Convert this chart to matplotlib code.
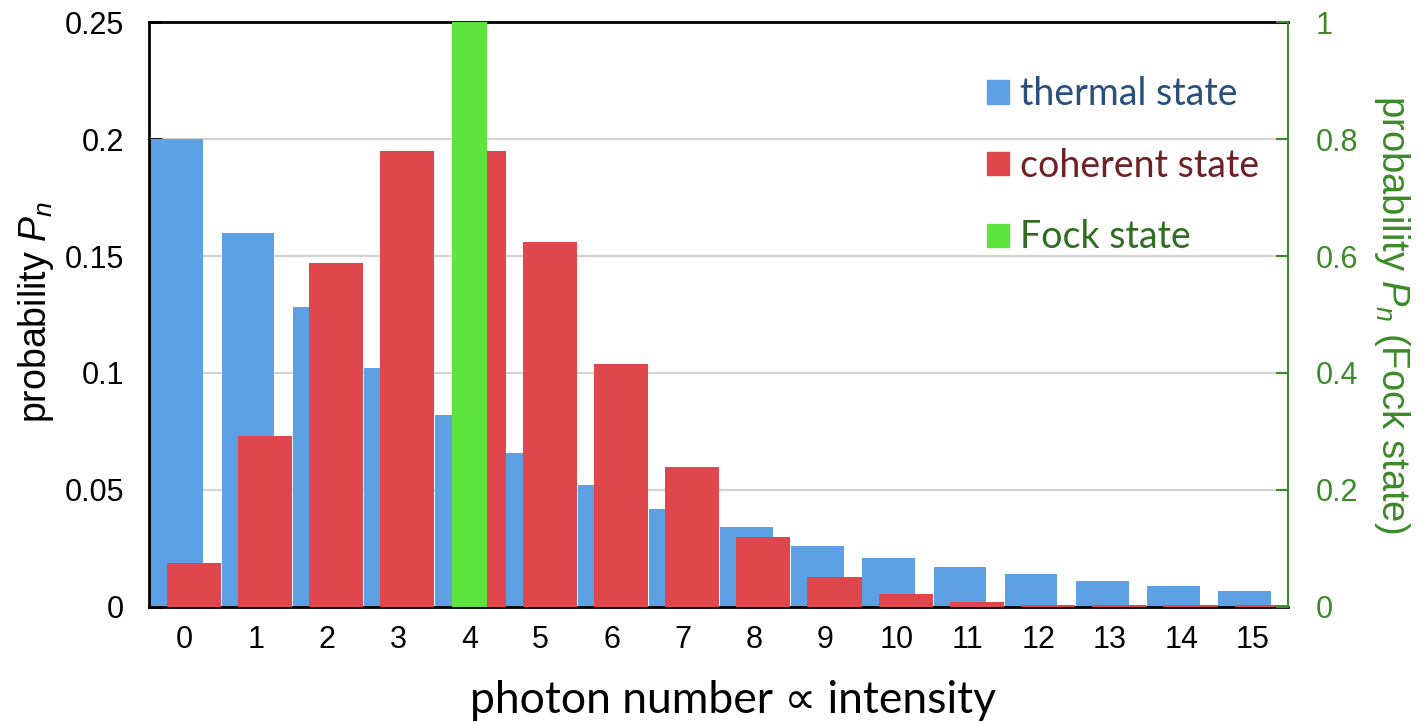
import numpy as np
import matplotlib
matplotlib.use('Agg')
import matplotlib.pyplot as plt
from matplotlib.patches import Patch

plt.rcParams['font.family'] = ['Liberation Sans', 'DejaVu Sans']
plt.rcParams['mathtext.fontset'] = 'custom'
plt.rcParams['mathtext.rm'] = 'Liberation Sans'
plt.rcParams['mathtext.it'] = 'Liberation Sans:italic'

# photon numbers
n = np.arange(16)
# thermal state probabilities (left axis)
thermal = [0.200, 0.160, 0.128, 0.102, 0.082, 0.066, 0.052, 0.042,
           0.034, 0.026, 0.021, 0.017, 0.014, 0.011, 0.009, 0.007]
# coherent state probabilities (left axis)
coherent = [0.019, 0.073, 0.147, 0.195, 0.195, 0.156, 0.104, 0.060,
            0.030, 0.013, 0.0055, 0.002, 0.001, 0.001, 0.001, 0.001]
# Fock state (right axis)
fock_n = [4]
fock = [1.0]

blue = '#5DA0E3'
red = '#E0474C'
green = '#5EE33F'
dgreen = '#3C8A28'

fig = plt.figure(figsize=(14.19, 7.22), dpi=100)
ax = fig.add_axes([0.105, 0.1593, 0.8027, 0.8102])

ax.bar(n - 0.11, thermal, width=0.74, color=blue, zorder=2)
ax.bar(n + 0.13, coherent, width=0.76, color=red, zorder=3)
ax.set_xlim(-0.5, 15.5)
ax.set_ylim(0, 0.25)
ax.set_yticks([0, 0.05, 0.1, 0.15, 0.2, 0.25])
ax.set_yticklabels(['0', '0.05', '0.1', '0.15', '0.2', '0.25'])
ax.set_xticks(n)
ax.tick_params(axis='y', direction='in', length=9, width=2, labelsize=22, pad=18)
ax.tick_params(axis='x', length=0, labelsize=22, pad=13)
for y in [0.05, 0.1, 0.15, 0.2]:
    ax.axhline(y, color='#d4d4d4', lw=1.6, zorder=1)
for s in ['left', 'top', 'bottom']:
    ax.spines[s].set_linewidth(2)
ax.spines['right'].set_visible(False)

ax.set_ylabel('probability $P_n$', fontsize=27)
ax.yaxis.set_label_coords(-0.082, 0.504)
ax.set_xlabel('photon number \u221d intensity', fontsize=32,
              family=['Lato', 'DejaVu Sans'])
ax.xaxis.set_label_coords(0.513, -0.125)

ax2 = ax.twinx()
ax2.bar(fock_n, fock, width=0.49, color=green, zorder=4)
ax2.set_ylim(0, 1)
ax2.set_yticks([0, 0.2, 0.4, 0.6, 0.8, 1])
ax2.set_yticklabels(['0', '0.2', '0.4', '0.6', '0.8', '1'])
ax2.tick_params(axis='y', direction='in', length=9, width=1.5, labelsize=22,
                pad=20, colors=dgreen, labelcolor=dgreen)
for s in ['left', 'top', 'bottom']:
    ax2.spines[s].set_visible(False)
ax2.spines['right'].set_color(dgreen)
ax2.spines['right'].set_linewidth(1.5)
ax2.set_ylabel('probability $P_n$ (Fock state)', fontsize=27.5, color=dgreen,
               rotation=270)
ax2.yaxis.set_label_coords(1.109, 0.5)

handles = [Patch(color=blue), Patch(color=red), Patch(color=green)]
labels = ['thermal state', 'coherent state', 'Fock state']
leg = ax2.legend(handles, labels, loc='upper left', bbox_to_anchor=(0.706, 0.965),
                 frameon=False, handlelength=0.58, handleheight=0.58,
                 handletextpad=0.3, labelspacing=0.95,
                 prop={'family': ['Lato', 'DejaVu Sans'], 'size': 27})
for t, c in zip(leg.get_texts(), ['#2A4F7C', '#6E2227', '#2F6E22']):
    t.set_color(c)

fig.savefig('out.png', dpi=100)
